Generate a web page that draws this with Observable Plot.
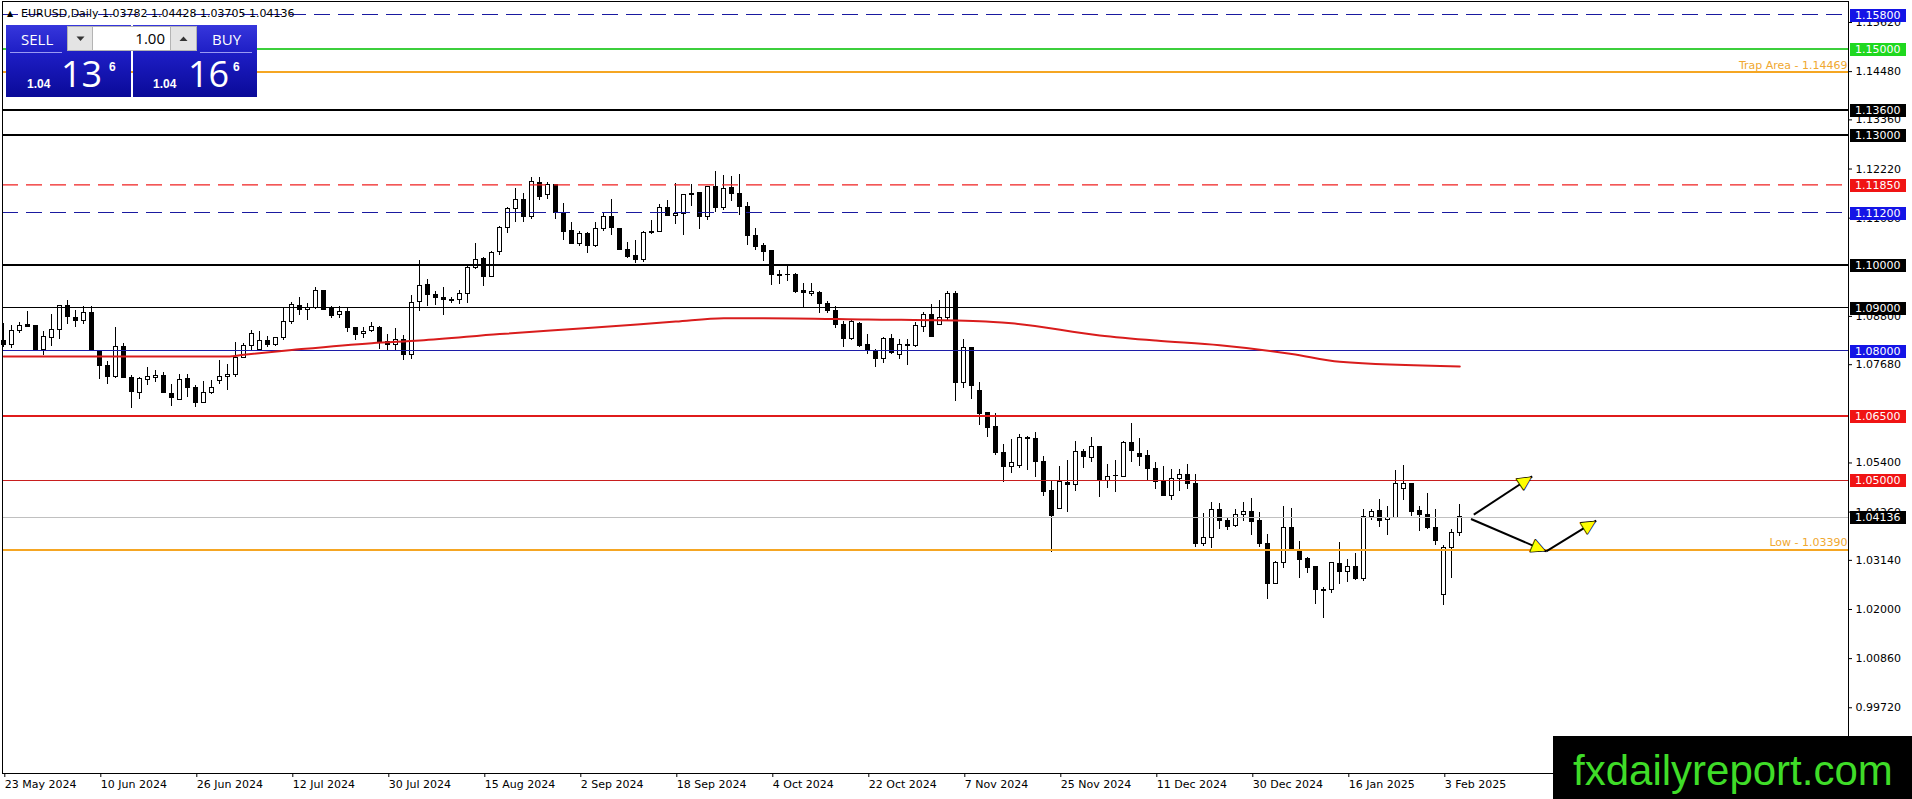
<!DOCTYPE html>
<html><head><meta charset="utf-8">
<script src="https://cdn.jsdelivr.net/npm/d3@7"></script>
<script src="https://cdn.jsdelivr.net/npm/@observablehq/plot@0.6"></script>
<style>
html,body{margin:0;padding:0;background:#fff;overflow:hidden;}
#wrap{position:relative;width:1912px;height:799px;font-family:"DejaVu Sans",sans-serif;}
#wrap svg.plot{display:block;}
.lbl{position:absolute;left:1850px;width:51px;height:13px;padding-left:5px;color:#fff;font:11px/13px "DejaVu Sans",sans-serif;}
#wm{position:absolute;left:1553px;top:736px;width:359px;height:63px;background:#000;}
#wm span{position:absolute;left:20px;top:12px;font:42px/46px "Liberation Sans",Arial,sans-serif;color:#3fdc28;white-space:nowrap;}
#panel{position:absolute;left:0;top:0;}
</style></head><body><div id="wrap"></div>
<script>
// ---- data ----
const dateLabels = ["23 May 2024","10 Jun 2024","26 Jun 2024","12 Jul 2024","30 Jul 2024","15 Aug 2024","2 Sep 2024","18 Sep 2024","4 Oct 2024","22 Oct 2024","7 Nov 2024","25 Nov 2024","11 Dec 2024","30 Dec 2024","16 Jan 2025","3 Feb 2025"];
const dateTickBars = [0,12,24,36,48,60,72,84,96,108,120,132,144,156,168,180];

const open = [1.0824,1.0814,1.0846,1.0859,1.0857,1.0801,1.0830,1.0849,1.0905,1.0877,
1.0869,1.0888,1.0799,1.0766,1.0739,1.0810,1.0738,1.0703,1.0733,1.0738,
1.0742,1.0701,1.0687,1.0734,1.0715,1.0680,1.0703,1.0731,1.0740,1.0745,
1.0784,1.0811,1.0802,1.0823,1.0814,1.0830,1.0866,1.0904,1.0895,1.0899,
1.0940,1.0899,1.0883,1.0890,1.0853,1.0839,1.0846,1.0853,1.0821,1.0814,
1.0825,1.0790,1.0914,1.0954,1.0930,1.0923,1.0919,1.0918,1.0932,1.0992,
1.1013,1.0971,1.1029,1.1085,1.1129,1.1150,1.1110,1.1189,1.1162,1.1185,
1.1120,1.1079,1.1048,1.1071,1.1043,1.1083,1.1111,1.1083,1.1034,1.1021,
1.1010,1.1077,1.1076,1.1131,1.1114,1.1118,1.1164,1.1166,1.1110,1.1181,
1.1131,1.1178,1.1164,1.1135,1.1067,1.1043,1.1032,1.0977,1.0977,1.0976,
1.0938,1.0931,1.0934,1.0909,1.0893,1.0860,1.0828,1.0862,1.0813,1.0798,
1.0781,1.0828,1.0790,1.0814,1.0811,1.0856,1.0883,1.0859,1.0877,1.0933,
1.0726,1.0806,1.0706,1.0655,1.0623,1.0563,1.0531,1.0532,1.0598,1.0596,
1.0543,1.0474,1.0433,1.0494,1.0489,1.0566,1.0552,1.0576,1.0498,1.0510,
1.0507,1.0587,1.0560,1.0555,1.0526,1.0498,1.0464,1.0502,1.0511,1.0492,
1.0351,1.0366,1.0430,1.0406,1.0393,1.0420,1.0426,1.0406,1.0352,1.0259,
1.0307,1.0389,1.0339,1.0317,1.0299,1.0245,1.0245,1.0305,1.0287,1.0299,
1.0270,1.0414,1.0428,1.0407,1.0413,1.0479,1.0492,1.0428,1.0419,1.0389,
1.0233,1.0342,1.03782];
const high = [1.0863,1.0859,1.0867,1.0892,1.0858,1.0846,1.0885,1.0906,1.0917,1.0894,
1.0903,1.0903,1.0800,1.0776,1.0854,1.0817,1.0743,1.0739,1.0762,1.0755,
1.0749,1.0721,1.0745,1.0745,1.0720,1.0728,1.0732,1.0778,1.0768,1.0819,
1.0817,1.0847,1.0845,1.0834,1.0831,1.0899,1.0913,1.0923,1.0909,1.0947,
1.0941,1.0903,1.0904,1.0899,1.0854,1.0855,1.0866,1.0856,1.0838,1.0851,
1.0835,1.0928,1.1009,1.0965,1.0937,1.0947,1.0923,1.0939,1.0995,1.1049,
1.1017,1.1030,1.1089,1.1133,1.1176,1.1166,1.1203,1.1203,1.1191,1.1187,
1.1141,1.1098,1.1077,1.1075,1.1098,1.1120,1.1152,1.1084,1.1052,1.1056,
1.1077,1.1102,1.1139,1.1148,1.1189,1.1164,1.1186,1.1168,1.1182,1.1216,
1.1206,1.1205,1.1210,1.1145,1.1083,1.1049,1.1033,1.0987,1.0999,1.0979,
1.0956,1.0956,1.0937,1.0914,1.0902,1.0869,1.0871,1.0866,1.0839,1.0804,
1.0831,1.0837,1.0827,1.0827,1.0865,1.0889,1.0907,1.0916,1.0937,1.0937,
1.0827,1.0808,1.0726,1.0657,1.0654,1.0583,1.0594,1.0607,1.0601,1.0610,
1.0555,1.0499,1.0532,1.0546,1.0590,1.0571,1.0600,1.0577,1.0536,1.0546,
1.0590,1.0632,1.0596,1.0569,1.0541,1.0532,1.0524,1.0524,1.0536,1.0513,
1.0422,1.0449,1.0445,1.0412,1.0431,1.0448,1.0458,1.0424,1.0375,1.0311,
1.0438,1.0435,1.0357,1.0321,1.0300,1.0251,1.0309,1.0355,1.0315,1.0330,
1.0433,1.0433,1.0456,1.0438,1.0522,1.0533,1.0493,1.0438,1.0468,1.0433,
1.0348,1.0386,1.04428];
const low = [1.0809,1.0806,1.0841,1.0856,1.0800,1.0789,1.0811,1.0827,1.0861,1.0855,
1.0861,1.0800,1.0733,1.0721,1.0735,1.0735,1.0667,1.0687,1.0719,1.0726,
1.0700,1.0672,1.0685,1.0691,1.0668,1.0677,1.0699,1.0721,1.0709,1.0738,
1.0782,1.0801,1.0801,1.0807,1.0811,1.0824,1.0862,1.0882,1.0871,1.0895,
1.0893,1.0875,1.0876,1.0842,1.0825,1.0829,1.0843,1.0803,1.0801,1.0801,
1.0778,1.0780,1.0892,1.0903,1.0905,1.0883,1.0909,1.0907,1.0911,1.0990,
1.0950,1.0970,1.1021,1.1073,1.1098,1.1098,1.1106,1.1150,1.1152,1.1105,
1.1056,1.1046,1.1043,1.1026,1.1039,1.1076,1.1067,1.1033,1.1015,1.1003,
1.1006,1.1071,1.1074,1.1111,1.1094,1.1067,1.1135,1.1081,1.1102,1.1120,
1.1125,1.1147,1.1114,1.1044,1.1033,1.1007,1.0952,1.0954,1.0961,1.0934,
1.0899,1.0927,1.0886,1.0886,1.0852,1.0809,1.0823,1.0809,1.0791,1.0761,
1.0770,1.0792,1.0779,1.0767,1.0808,1.0842,1.0831,1.0858,1.0871,1.0682,
1.0712,1.0688,1.0626,1.0599,1.0557,1.0495,1.0516,1.0528,1.0522,1.0507,
1.0462,1.0333,1.0431,1.0426,1.0474,1.0528,1.0542,1.0461,1.0481,1.0472,
1.0506,1.0542,1.0532,1.0498,1.0478,1.0462,1.0454,1.0474,1.0478,1.0345,
1.0346,1.0341,1.0385,1.0383,1.0391,1.0404,1.0372,1.0344,1.0224,1.0258,
1.0296,1.0339,1.0272,1.0284,1.0212,1.0178,1.0237,1.0259,1.0263,1.0267,
1.0265,1.0406,1.0390,1.0372,1.0412,1.0454,1.0415,1.0381,1.0386,1.0348,
1.0210,1.0272,1.03705];
const close = [1.0814,1.0846,1.0858,1.0856,1.0801,1.0832,1.0849,1.0905,1.0878,1.0869,
1.0888,1.0801,1.0765,1.0739,1.0810,1.0737,1.0704,1.0734,1.0740,1.0742,
1.0702,1.0691,1.0733,1.0715,1.0679,1.0703,1.0715,1.0740,1.0745,1.0784,
1.0812,1.0839,1.0823,1.0814,1.0830,1.0866,1.0907,1.0894,1.0899,1.0939,
1.0894,1.0882,1.0890,1.0852,1.0838,1.0844,1.0856,1.0819,1.0814,1.0825,
1.0790,1.0911,1.0951,1.0929,1.0922,1.0918,1.0915,1.0932,1.0992,1.1011,
1.0971,1.1027,1.1085,1.1129,1.1150,1.1110,1.1191,1.1158,1.1185,1.1120,
1.1077,1.1048,1.1071,1.1043,1.1083,1.1111,1.1084,1.1034,1.1019,1.1010,
1.1073,1.1073,1.1131,1.1112,1.1118,1.1162,1.1161,1.1110,1.1181,1.1131,
1.1176,1.1164,1.1133,1.1066,1.1042,1.1030,1.0975,1.0974,1.0975,1.0937,
1.0934,1.0936,1.0908,1.0892,1.0859,1.0828,1.0867,1.0811,1.0800,1.0781,
1.0828,1.0794,1.0813,1.0812,1.0857,1.0883,1.0833,1.0877,1.0932,1.0726,
1.0806,1.0718,1.0653,1.0622,1.0563,1.0530,1.0540,1.0598,1.0595,1.0542,
1.0472,1.0418,1.0495,1.0489,1.0566,1.0553,1.0577,1.0498,1.0507,1.0509,
1.0587,1.0567,1.0554,1.0525,1.0495,1.0464,1.0503,1.0513,1.0492,1.0351,
1.0365,1.0430,1.0405,1.0391,1.0420,1.0426,1.0404,1.0351,1.0259,1.0308,
1.0389,1.0340,1.0316,1.0297,1.0245,1.0243,1.0308,1.0286,1.0298,1.0270,
1.0414,1.0427,1.0406,1.0413,1.0491,1.0491,1.0427,1.0419,1.0390,1.0359,
1.0342,1.0377,1.04136];

// moving average (red) read at bar positions
const maBar   = [0, 28, 30, 36, 46, 52, 62, 73, 84, 90, 95, 108, 122, 126, 137, 144, 152, 161, 167, 182];
const maValue = [1.0787,1.0787,1.0791,1.0802,1.0818,1.0824,1.0839,1.0853,1.0868,1.0876,1.0876,1.0873,1.0869,1.0864,1.0836,1.0824,1.0813,1.0793,1.0775,1.0764];

// horizontal levels
const thickBlackLevels = [1.136, 1.13, 1.10];
const thinBlackLevels  = [1.09];
const blueDashLevels   = [1.158, 1.112];
const redDashLevels    = [1.1185];
const greenLevels      = [1.15];
const orangeLevels     = [1.14469, 1.0339];
const blueLevels       = [1.08];
const redThickLevels   = [1.065];
const redThinLevels    = [1.05];
const bidLevels        = [1.04136];
const orangeTexts      = ["Trap Area - 1.14469", "Low - 1.03390"];

// right-axis price tags
const tagPrices = [1.158, 1.15, 1.136, 1.13, 1.1185, 1.112, 1.10, 1.09, 1.08, 1.065, 1.05, 1.04136];
const tagColors = ["#1414e6","#1fd81f","#000","#000","#f01414","#1414e6","#000","#000","#1414e6","#f01414","#f01414","#000"];

// axis ticks (the ones fully covered by tags are omitted)
const priceTicks = [1.1562,1.1448,1.1336,1.1222,1.1108,1.0880,1.0768,1.0540,1.0426,1.0314,1.0200,1.0086,0.9972];

// forecast arrows
const arrowBar1   = [183.75, 183.4, 192.8];
const arrowPrice1 = [1.0420, 1.0410, 1.0335];
const arrowBar2   = [191.05, 192.8, 199.05];
const arrowPrice2 = [1.0509, 1.0335, 1.0406];

// ---- build ----
const candles = open.map((o, i) => ({i, o, h: high[i], l: low[i], c: close[i]}));
const bulls = candles.filter(d => d.c >= d.o);
const bears = candles.filter(d => d.c < d.o);
const ma = maBar.map((b, k) => ({b, v: maValue[k]}));
const arrows = arrowBar1.map((b, k) => ({x1: b, y1: arrowPrice1[k], x2: arrowBar2[k], y2: arrowPrice2[k]}));

const W = 1912, H = 799, ML = 2, MR = 64, MT = 1, MB = 26;
const xDomain = [-0.1625, 230.5875];
const yDomain = [0.981949, 1.161067];
const pxX = (W - ML - MR) / (xDomain[1] - xDomain[0]);
const pxY = (H - MT - MB) / (yDomain[1] - yDomain[0]);

const headMarks = arrows.map(a => {
  const dxp = (a.x2 - a.x1) * pxX, dyp = -(a.y2 - a.y1) * pxY;
  const t = Math.atan2(dyp, dxp);
  return Plot.text([a], {x: "x2", y: "y2", text: () => "\u25B2", rotate: t * 180 / Math.PI + 90,
    dx: -7 * Math.cos(t), dy: -7 * Math.sin(t), fill: "#ffff00", stroke: "#000", strokeWidth: 1.6,
    fontSize: 17, fontFamily: "DejaVu Sans", textAnchor: "middle", lineAnchor: "middle"});
});

const crisp = {shapeRendering: "crispEdges"};
const chart = Plot.plot({
  width: W, height: H, marginLeft: ML, marginRight: MR, marginTop: MT, marginBottom: MB,
  x: {type: "linear", domain: xDomain},
  y: {type: "linear", domain: yDomain},
  style: {fontFamily: "DejaVu Sans", fontSize: "11px", background: "#fff", color: "#000", overflow: "visible"},
  marks: [
    Plot.ruleX(candles, {x: "i", y1: "l", y2: "h", stroke: "#000", strokeWidth: 1, ...crisp}),
    Plot.rect(bulls, {x1: d => d.i - 0.24, x2: d => d.i + 0.24, y1: "o", y2: "c", fill: "#fff", stroke: "#000", strokeWidth: 1, ...crisp}),
    Plot.rect(bears, {x1: d => d.i - 0.24, x2: d => d.i + 0.24, y1: "o", y2: "c", fill: "#000", stroke: "#000", strokeWidth: 1, ...crisp}),
    Plot.ruleY(bidLevels, {y: d => d, stroke: "#c0c0c0", strokeWidth: 1, ...crisp}),
    Plot.ruleY(thickBlackLevels, {y: d => d, stroke: "#000", strokeWidth: 2, ...crisp}),
    Plot.ruleY(thinBlackLevels, {y: d => d, stroke: "#000", strokeWidth: 1, ...crisp}),
    Plot.ruleY(blueDashLevels, {y: d => d, stroke: "#1a1aa0", strokeWidth: 1, strokeDasharray: "16,8", ...crisp}),
    Plot.ruleY(redDashLevels, {y: d => d, stroke: "#f02020", strokeWidth: 1.3, strokeDasharray: "16,8"}),
    Plot.ruleY(greenLevels, {y: d => d, stroke: "#3ccf3c", strokeWidth: 2, ...crisp}),
    Plot.ruleY(orangeLevels, {y: d => d, stroke: "#f5a623", strokeWidth: 2, ...crisp}),
    Plot.ruleY(blueLevels, {y: d => d, stroke: "#1c1ca8", strokeWidth: 1, ...crisp}),
    Plot.ruleY(redThickLevels, {y: d => d, stroke: "#e01b1b", strokeWidth: 2, ...crisp}),
    Plot.ruleY(redThinLevels, {y: d => d, stroke: "#c81e1e", strokeWidth: 1, ...crisp}),
    Plot.text(orangeLevels, {y: d => d, text: (d, k) => orangeTexts[k], frameAnchor: "right", textAnchor: "end", dx: -1, dy: -7, fill: "#f0a830", fontSize: 11}),
    Plot.line(ma, {x: "b", y: "v", stroke: "#d91c1c", strokeWidth: 2, curve: "monotone-x"}),
    Plot.link(arrows, {x1: "x1", y1: "y1", x2: "x2", y2: "y2", stroke: "#000", strokeWidth: 2}),
    ...headMarks,
    Plot.frame({stroke: "#000", strokeWidth: 1}),
    Plot.axisY(priceTicks, {anchor: "right", tickFormat: d => d.toFixed(5), tickSize: 3, tickPadding: 4, textAnchor: "start", label: null, fontSize: 11}),
    Plot.axisX(dateTickBars, {anchor: "bottom", tickFormat: d => dateLabels[dateTickBars.indexOf(d)], tickSize: 4, tickPadding: 3, textAnchor: "start", dx: 1, label: null, fontSize: 11})
  ]
});

const wrap = document.getElementById("wrap");
chart.classList.add("plot");
wrap.appendChild(chart);

// price tags positioned through the plot's y scale
const ys = chart.scale("y");
tagPrices.forEach((p, k) => {
  const d = document.createElement("div");
  d.className = "lbl";
  d.style.top = (ys.apply(p) - 5.5) + "px";
  d.style.background = tagColors[k];
  d.textContent = p.toFixed(5);
  wrap.appendChild(d);
});

// trading panel + header (terminal UI overlay)
const ui = document.createElement("div");
ui.id = "panel";
ui.innerHTML = `<svg width="300" height="100" xmlns="http://www.w3.org/2000/svg">
<defs><linearGradient id="bg" x1="0" y1="0" x2="0" y2="1">
<stop offset="0" stop-color="#3636dc"/><stop offset="0.4" stop-color="#1d1dc4"/><stop offset="1" stop-color="#0a0a98"/></linearGradient></defs>
<text x="7" y="16" font-family="DejaVu Sans" font-size="8" fill="#000">\u25B2</text>
<text x="21" y="17" font-family="DejaVu Sans" font-size="11" fill="#000">EURUSD,Daily</text>
<text x="102" y="17" font-family="DejaVu Sans" font-size="11" fill="#000">1.03782 1.04428 1.03705 1.04136</text>
<rect x="6" y="25" width="125" height="72" fill="url(#bg)"/>
<rect x="133" y="25" width="124" height="72" fill="url(#bg)"/>
<rect x="67.5" y="26.5" width="129" height="24" fill="#fff" stroke="#b4b4b4"/>
<rect x="67.5" y="26.5" width="25" height="24" fill="#e4e4e4" stroke="#b4b4b4"/>
<rect x="170.5" y="26.5" width="26" height="24" fill="#e4e4e4" stroke="#b4b4b4"/>
<path d="M76.5,36.5 L84.5,36.5 L80.5,41 Z" fill="#333"/>
<path d="M179.5,41 L187.5,41 L183.5,36.5 Z" fill="#333"/>
<text x="165" y="44" text-anchor="end" font-family="Open Sans" font-size="15" fill="#000">1.00</text>
<text x="21" y="45" font-family="Open Sans" font-size="15" fill="#fff">SELL</text>
<text x="212" y="45" font-family="Open Sans" font-size="15" fill="#fff">BUY</text>
<line x1="10" y1="52.5" x2="62" y2="52.5" stroke="#9a9af2" stroke-width="1"/>
<line x1="200" y1="52.5" x2="252" y2="52.5" stroke="#9a9af2" stroke-width="1"/>
<text x="27" y="88" font-family="Liberation Sans" font-weight="bold" font-size="12" fill="#fff">1.04</text>
<text x="61" y="87" font-family="Open Sans" font-size="36" fill="#fff">13</text>
<text x="109" y="71" font-family="Liberation Sans" font-weight="bold" font-size="12" fill="#fff">6</text>
<text x="153" y="88" font-family="Liberation Sans" font-weight="bold" font-size="12" fill="#fff">1.04</text>
<text x="188" y="87" font-family="Open Sans" font-size="36" fill="#fff">16</text>
<text x="233" y="71" font-family="Liberation Sans" font-weight="bold" font-size="12" fill="#fff">6</text>
</svg>`;
wrap.appendChild(ui);

const wm = document.createElement("div");
wm.id = "wm";
wm.innerHTML = "<span>fxdailyreport.com</span>";
wrap.appendChild(wm);
</script>
</body></html>
